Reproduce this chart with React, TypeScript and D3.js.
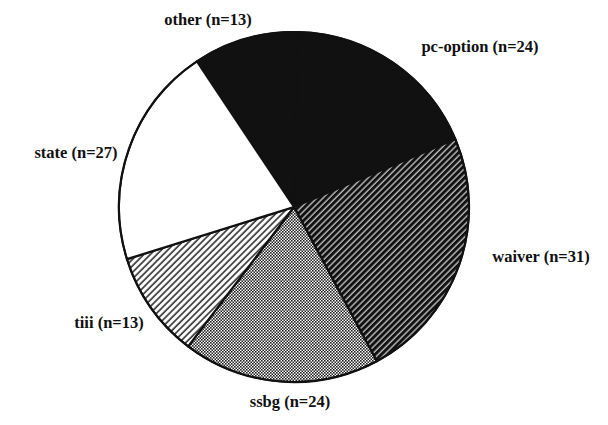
import React from "react";
import { pie, arc } from "d3";

// Program counts, clockwise from "other"
const categories = ["other", "pc-option", "waiver", "ssbg", "tiii", "state"];
const counts = [13, 24, 31, 24, 13, 27];
const fills = ["#111", "#111", "url(#hatchDark)", "url(#dots)", "url(#hatchLight)", "#fff"];

// label anchor points (layout only), same order as categories
const labelPos: [number, number][] = [
  [208, 25],
  [480, 52],
  [541, 262],
  [290, 407],
  [109, 328],
  [76, 158],
];

const W = 608;
const H = 425;
const cx = 294;
const cy = 207;
const R = 175;

export default function App() {
  const slices = pie<number>()
    .sort(null)
    .startAngle(-0.588)
    .endAngle(-0.588 + Math.PI * 2)(counts);

  const arcGen = arc<any>().innerRadius(0).outerRadius(R);

  return (
    <svg
      width={W}
      height={H}
      style={{ position: "fixed", left: 0, top: 0, background: "#fff" }}
    >
      <defs>
        <pattern
          id="hatchDark"
          width="4.4"
          height="4.4"
          patternUnits="userSpaceOnUse"
          patternTransform="rotate(45)"
        >
          <rect width="4.4" height="4.4" fill="#111" />
          <line x1="1" y1="0" x2="1" y2="4.4" stroke="#fff" strokeWidth="1" />
        </pattern>
        <pattern
          id="hatchLight"
          width="4.6"
          height="4.6"
          patternUnits="userSpaceOnUse"
          patternTransform="rotate(45)"
        >
          <rect width="4.6" height="4.6" fill="#fff" />
          <line x1="1" y1="0" x2="1" y2="4.6" stroke="#111" strokeWidth="1.4" />
        </pattern>
        <pattern id="dots" width="3" height="3" patternUnits="userSpaceOnUse">
          <rect width="3" height="3" fill="#fff" />
          <rect x="0" y="0" width="1.6" height="1.6" fill="#222" />
          <rect x="1.5" y="1.5" width="1.6" height="1.6" fill="#222" />
        </pattern>
      </defs>

      <g transform={`translate(${cx},${cy})`}>
        {slices.map((s, i) => (
          <path
            key={categories[i]}
            d={arcGen(s) ?? ""}
            fill={fills[i]}
            stroke="#111"
            strokeWidth={2.2}
            strokeLinejoin="round"
          />
        ))}
        <circle r={R} fill="none" stroke="#111" strokeWidth={1.8} />
      </g>

      <g
        fontFamily="'Liberation Serif', 'Times New Roman', serif"
        fontWeight="bold"
        fontSize={16.5}
        fill="#111"
        textAnchor="middle"
      >
        {categories.map((c, i) => (
          <text key={c} x={labelPos[i][0]} y={labelPos[i][1]}>
            {`${c} (n=${counts[i]})`}
          </text>
        ))}
      </g>
    </svg>
  );
}
